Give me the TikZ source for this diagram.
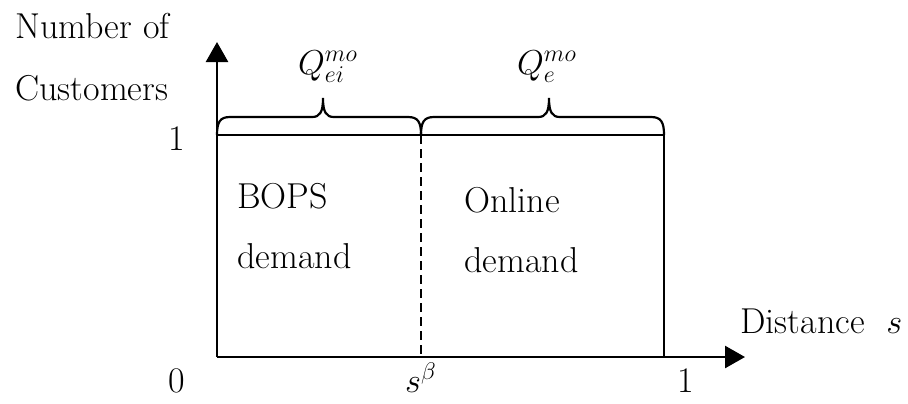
\documentclass[tikz,border=0pt]{standalone}
\usetikzlibrary{arrows.meta}
\begin{document}
\begin{tikzpicture}[x=0.5pt,y=-0.5pt,
  txt/.style={inner sep=0pt,font=\fontsize{18}{21}\selectfont},
  axis/.style={line width=1.3pt,-{Triangle[length=10pt,width=11pt]}},
  edge/.style={line width=1.1pt},
  brc/.style={line width=1.1pt}]
\useasboundingbox (0,0) rectangle (908,403);
% key points
\coordinate (O) at (217,357);
\coordinate (Ytip) at (217,42);
\coordinate (Xtip) at (745,357);
\coordinate (TL) at (217,135);
\coordinate (TM) at (421,135);
\coordinate (TR) at (664,135);
\coordinate (BM) at (421,357);
\coordinate (BR) at (664,357);
% box
\draw[edge] (TL) -- (TR) -- (BR);
\draw[line width=1pt,dash pattern=on 4.5pt off 2.5pt] (TM) -- (BM);
% axes
\draw[axis] (O) -- (Ytip);
\draw[axis] (O) -- (Xtip);
% braces
\draw[brc] (TL) .. controls (217,122) and (220,117) .. (230,117) -- (312,117)
  .. controls (320,117) and (323,112) .. (323,98)
  .. controls (323,112) and (326,117) .. (334,117) -- (408,117)
  .. controls (418,117) and (421,122) .. (TM);
\draw[brc] (TM) .. controls (421,122) and (424,117) .. (434,117) -- (538,117)
  .. controls (546,117) and (549,112) .. (549,98)
  .. controls (549,112) and (552,117) .. (560,117) -- (651,117)
  .. controls (661,117) and (664,122) .. (TR);
% texts
\node[txt,anchor=base west] (ny1) at (15,38) {Number of};
\node[txt,anchor=base west] (ny2) at (15,100) {Customers};
\node[txt,anchor=base] (one) at (177,150) {1};
\node[txt,anchor=base] (q1) at (328,74) {$Q_{ei}^{mo}$};
\node[txt,anchor=base] (q2) at (547,74) {$Q_{e}^{mo}$};
\node[txt,anchor=base west] (b1) at (237,208) {BOPS};
\node[txt,anchor=base west] (b2) at (237,268) {demand};
\node[txt,anchor=base west] (o1) at (464,212) {Online};
\node[txt,anchor=base west] (o2) at (464,272) {demand};
\node[txt,anchor=base west] (dist) at (740,333) {Distance\hspace{0.6em}$s$};
\node[txt,anchor=base] (zero) at (177,392) {0};
\node[txt,anchor=base] (sb) at (421,392) {$s^{\beta}$};
\node[txt,anchor=base] (onex) at (686,392) {1};
\end{tikzpicture}
\end{document}
